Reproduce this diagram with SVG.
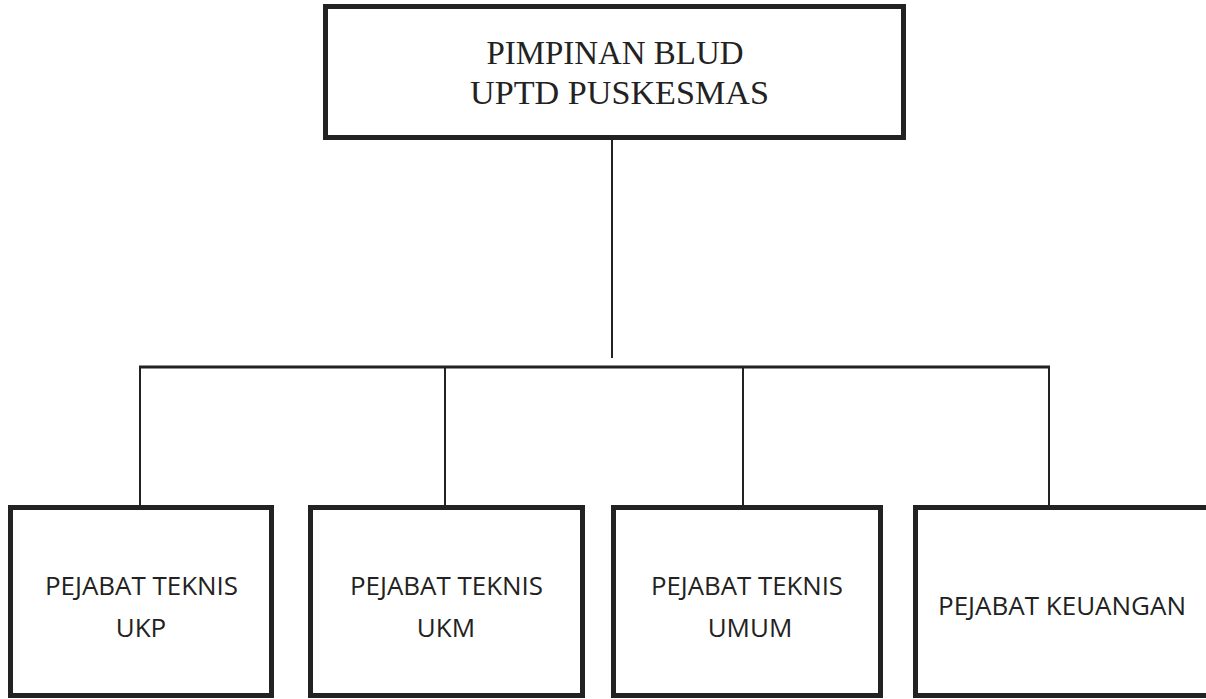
<svg xmlns="http://www.w3.org/2000/svg" width="1206" height="699" viewBox="0 0 1206 699">
<style>
.box{fill:#fff;stroke:#222;stroke-width:5}
.ln{stroke:#222;stroke-width:2;fill:none}
.top{font-family:"Liberation Serif",serif;font-size:33px;fill:#222;text-anchor:middle}
.sub{font-family:"Open Sans","Liberation Sans",sans-serif;font-size:26px;fill:#222;text-anchor:middle}
</style>
<rect width="1206" height="699" fill="#fff"/>
<g id="connectors">
<line class="ln" x1="612" y1="139" x2="612" y2="358"/>
<line class="ln" x1="139" y1="367" x2="1050" y2="367" style="stroke-width:3"/>
<line class="ln" x1="140" y1="367" x2="140" y2="505"/>
<line class="ln" x1="445" y1="367" x2="445" y2="505"/>
<line class="ln" x1="743" y1="367" x2="743" y2="505"/>
<line class="ln" x1="1049" y1="367" x2="1049" y2="505"/>
</g>
<g id="pimpinan">
<rect class="box" x="325.5" y="6.5" width="578" height="131"/>
<text class="top" x="615" y="64" textLength="257" lengthAdjust="spacingAndGlyphs">PIMPINAN BLUD</text>
<text class="top" x="619.5" y="104" textLength="299" lengthAdjust="spacingAndGlyphs">UPTD PUSKESMAS</text>
</g>
<g id="ukp">
<rect class="box" x="10.5" y="507.5" width="261" height="188"/>
<text class="sub" x="141.5" y="595" textLength="193" lengthAdjust="spacingAndGlyphs">PEJABAT TEKNIS</text>
<text class="sub" x="141" y="637">UKP</text>
</g>
<g id="ukm">
<rect class="box" x="310.5" y="507.5" width="272" height="188"/>
<text class="sub" x="446.5" y="595" textLength="193" lengthAdjust="spacingAndGlyphs">PEJABAT TEKNIS</text>
<text class="sub" x="446" y="637">UKM</text>
</g>
<g id="umum">
<rect class="box" x="613.5" y="507.5" width="267" height="188"/>
<text class="sub" x="747" y="595" textLength="192" lengthAdjust="spacingAndGlyphs">PEJABAT TEKNIS</text>
<text class="sub" x="750" y="637">UMUM</text>
</g>
<g id="keuangan">
<rect class="box" x="915.5" y="507.5" width="300" height="188"/>
<text class="sub" x="1062" y="615" textLength="248" lengthAdjust="spacingAndGlyphs">PEJABAT KEUANGAN</text>
</g>
</svg>
